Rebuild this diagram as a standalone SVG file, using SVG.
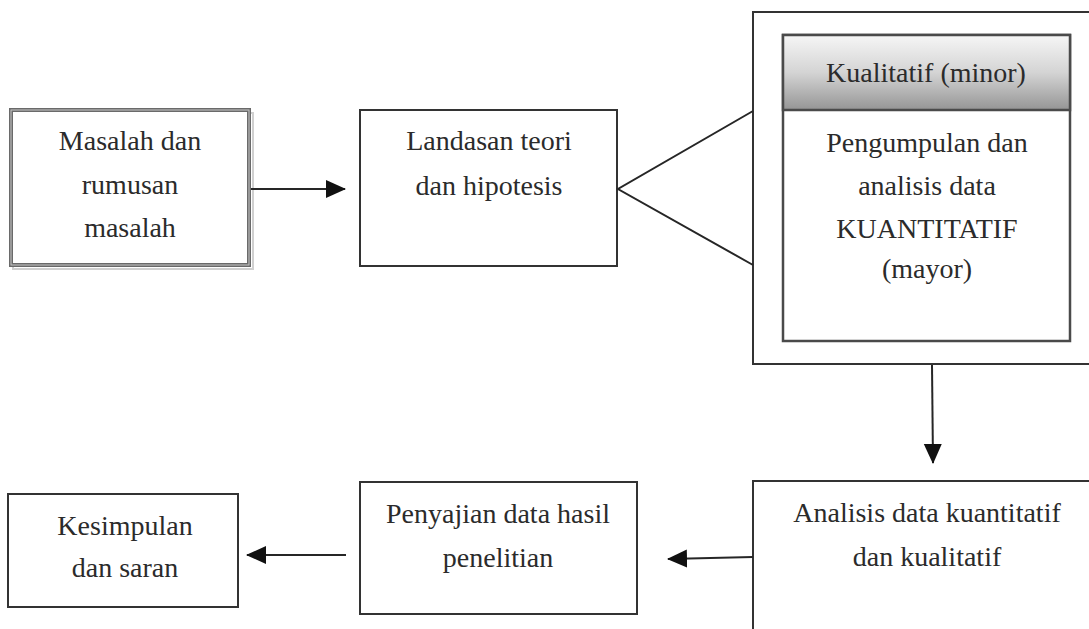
<svg xmlns="http://www.w3.org/2000/svg" width="1089" height="629" viewBox="0 0 1089 629">
  <style>
    .box { fill: #ffffff; stroke: #333333; stroke-width: 2; }
    .lbl { font-family: "Liberation Serif", "Times New Roman", serif; font-size: 28px; fill: #2b2b2b; text-anchor: middle; }
    .conn { fill: none; stroke: #262626; stroke-width: 2; }
  </style>
  <defs>
    <linearGradient id="headGrad" x1="0" y1="0" x2="0" y2="1">
      <stop offset="0" stop-color="#f6f6f6"/>
      <stop offset="0.5" stop-color="#d4d4d4"/>
      <stop offset="1" stop-color="#959595"/>
    </linearGradient>
    <marker id="arrow" viewBox="0 0 20 20" refX="19" refY="10" markerWidth="20" markerHeight="20" markerUnits="userSpaceOnUse" orient="auto">
      <path d="M0,1 L20,10 L0,19 Z" fill="#111111"/>
    </marker>
  </defs>

  <!-- Masalah dan rumusan masalah: framed box with soft drop shadow -->
  <g id="node-masalah">
    <rect x="13" y="113" width="240" height="156" fill="none" stroke="#d0d0d0" stroke-width="2"/>
    <rect x="11" y="110" width="238" height="155" fill="#ffffff" stroke="#6a6a6a" stroke-width="4"/>
    <rect x="11" y="110" width="238" height="155" fill="none" stroke="#c8c8c8" stroke-width="1"/>
    <text class="lbl" x="130" y="150">Masalah dan</text>
    <text class="lbl" x="130" y="194">rumusan</text>
    <text class="lbl" x="130" y="237">masalah</text>
  </g>

  <!-- Landasan teori dan hipotesis -->
  <g id="node-landasan">
    <rect class="box" x="360" y="110" width="257" height="156"/>
    <text class="lbl" x="489" y="150">Landasan teori</text>
    <text class="lbl" x="489" y="195">dan hipotesis</text>
  </g>

  <!-- Outer frame around the mixed-method block -->
  <g id="node-metode">
    <rect class="box" x="753" y="12" width="345" height="352"/>
    <rect x="783" y="35" width="287" height="306" fill="#ffffff" stroke="#4a4a4a" stroke-width="2.5"/>
    <rect x="783" y="35" width="287" height="75" fill="url(#headGrad)" stroke="#4a4a4a" stroke-width="2.5"/>
    <text class="lbl" x="926" y="82">Kualitatif (minor)</text>
    <text class="lbl" x="927" y="152">Pengumpulan dan</text>
    <text class="lbl" x="927" y="195">analisis data</text>
    <text class="lbl" x="927" y="238">KUANTITATIF</text>
    <text class="lbl" x="927" y="278">(mayor)</text>
  </g>

  <!-- Analisis data kuantitatif dan kualitatif (runs off the page edge) -->
  <g id="node-analisis">
    <rect class="box" x="753" y="481" width="345" height="160"/>
    <text class="lbl" x="927" y="522">Analisis data kuantitatif</text>
    <text class="lbl" x="927" y="566">dan kualitatif</text>
  </g>

  <!-- Penyajian data hasil penelitian -->
  <g id="node-penyajian">
    <rect class="box" x="360" y="482" width="277" height="132"/>
    <text class="lbl" x="498" y="523">Penyajian data hasil</text>
    <text class="lbl" x="498" y="567">penelitian</text>
  </g>

  <!-- Kesimpulan dan saran -->
  <g id="node-kesimpulan">
    <rect class="box" x="8" y="494" width="230" height="113"/>
    <text class="lbl" x="125" y="535">Kesimpulan</text>
    <text class="lbl" x="125" y="577">dan saran</text>
  </g>

  <!-- Connectors -->
  <g id="connectors">
    <line class="conn" x1="251" y1="189" x2="345" y2="189" marker-end="url(#arrow)"/>
    <polyline class="conn" points="753,111 618,189 753,265"/>
    <line class="conn" x1="932" y1="365" x2="933" y2="463" marker-end="url(#arrow)"/>
    <line class="conn" x1="753" y1="557" x2="668" y2="559" marker-end="url(#arrow)"/>
    <line class="conn" x1="346" y1="555" x2="247" y2="555" marker-end="url(#arrow)"/>
  </g>
</svg>
